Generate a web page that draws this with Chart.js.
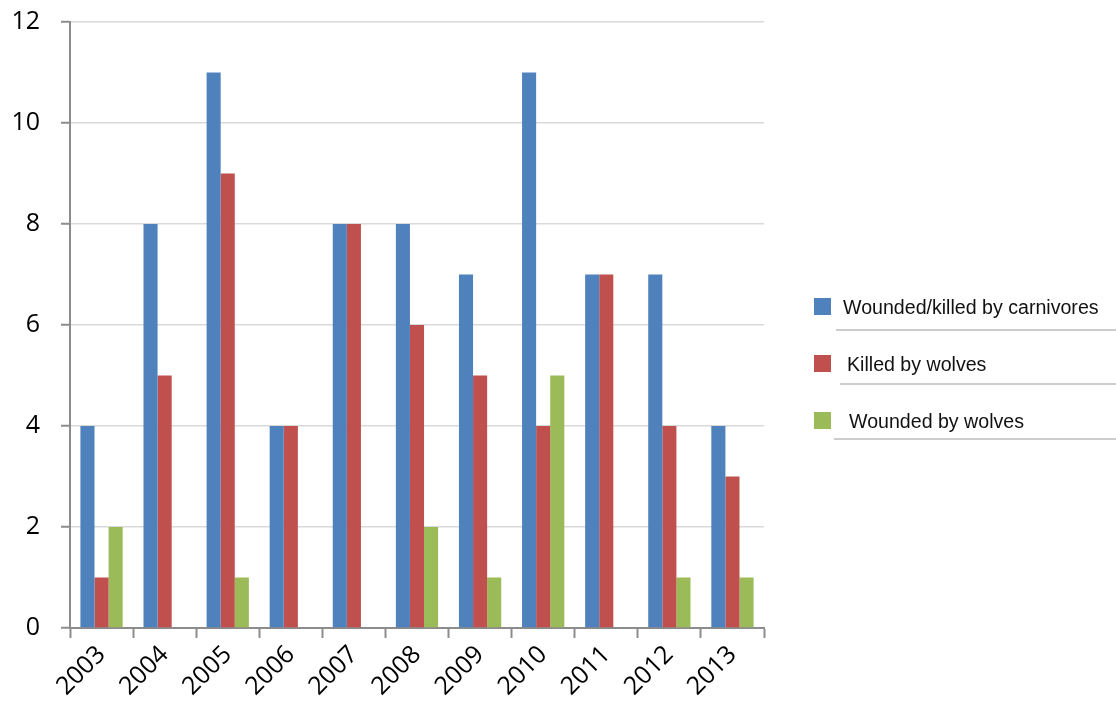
<!DOCTYPE html>
<html>
<head>
<meta charset="utf-8">
<script src="https://cdn.jsdelivr.net/npm/chart.js@4/dist/chart.umd.min.js"></script>
<style>
  html, body { margin: 0; padding: 0; background: #fff; }
  #wrap { width: 1116px; height: 713px; }
</style>
</head>
<body>
<div id="wrap"><canvas id="c" width="1116" height="713"></canvas></div>
<script>
const years = ['2003','2004','2005','2006','2007','2008','2009','2010','2011','2012','2013'];
const carnivores = [4, 8, 11, 4, 8, 8, 7, 11, 7, 7, 4];
const killedByWolves = [1, 5, 9, 4, 8, 6, 5, 4, 7, 4, 3];
const woundedByWolves = [2, 0, 1, 0, 0, 2, 1, 5, 0, 1, 1];
const yTicks = [0, 2, 4, 6, 8, 10, 12];

const seriesNames = ['Wounded/killed by carnivores', 'Killed by wolves', 'Wounded by wolves'];
const seriesColors = ['#4f81bd', '#c0504d', '#9bbb59'];

// Legend on the right: colour square, label, and a rule beneath each entry
const sideLegend = {
  id: 'sideLegend',
  afterDraw(chart) {
    const ctx = chart.ctx;
    const rows = [
      { y: 306, sq: 814, tx: 843, line: [836, 1116, 330] },
      { y: 363, sq: 814, tx: 847, line: [840, 1116, 384] },
      { y: 420, sq: 814, tx: 849, line: [834, 1116, 439] }
    ];
    ctx.save();
    chart.data.datasets.forEach((ds, i) => {
      const r = rows[i];
      ctx.fillStyle = ds.backgroundColor;
      ctx.fillRect(r.sq, r.y - 8, 17, 17);
      ctx.fillStyle = '#111';
      ctx.font = '19.6px "Liberation Sans", Arial, sans-serif';
      ctx.textBaseline = 'middle';
      ctx.textAlign = 'left';
      ctx.fillText(ds.label, r.tx, r.y + 3);
      ctx.strokeStyle = '#bdbdbd';
      ctx.lineWidth = 1.5;
      ctx.beginPath();
      ctx.moveTo(r.line[0], r.line[2]);
      ctx.lineTo(r.line[1], r.line[2]);
      ctx.stroke();
    });
    ctx.restore();
  }
};

const tickFont = { family: '"Open Sans", "Liberation Sans", sans-serif', size: 25 };

const ctx = document.getElementById('c').getContext('2d');
new Chart(ctx, {
  type: 'bar',
  data: {
    labels: years,
    datasets: [
      { label: seriesNames[0], data: carnivores, backgroundColor: seriesColors[0] },
      { label: seriesNames[1], data: killedByWolves, backgroundColor: seriesColors[1] },
      { label: seriesNames[2], data: woundedByWolves, backgroundColor: seriesColors[2] }
    ]
  },
  options: {
    responsive: false,
    animation: false,
    devicePixelRatio: 1,
    layout: { padding: { left: 0, top: 22, right: 352, bottom: 0 } },
    datasets: { bar: { categoryPercentage: 0.67, barPercentage: 1.0 } },
    plugins: {
      legend: { display: false },
      tooltip: { enabled: false }
    },
    scales: {
      x: {
        offset: true,
        grid: {
          offset: true,
          drawOnChartArea: false,
          drawTicks: true,
          tickLength: 10,
          tickColor: '#8c8c8c',
          tickWidth: 2
        },
        border: { color: '#8c8c8c', width: 2 },
        ticks: {
          maxRotation: 45,
          minRotation: 45,
          padding: 2,
          color: '#000',
          font: tickFont
        },
        afterFit(scale) {
          scale.height = 85;
          scale.paddingLeft = 0;
          scale.paddingRight = 0;
        }
      },
      y: {
        min: 0,
        max: 12,
        afterBuildTicks(scale) { scale.ticks = yTicks.map(v => ({ value: v })); },
        grid: {
          color: '#d9d9d9',
          lineWidth: 1.5,
          drawTicks: true,
          tickLength: 9,
          tickColor: '#8c8c8c',
          tickWidth: 2
        },
        border: { color: '#8c8c8c', width: 2 },
        ticks: {
          padding: 21,
          color: '#000',
          font: tickFont
        },
        afterFit(scale) {
          scale.width = 70;
          scale.paddingTop = 0;
          scale.paddingBottom = 0;
        }
      }
    }
  },
  plugins: [sideLegend]
});
</script>
</body>
</html>
